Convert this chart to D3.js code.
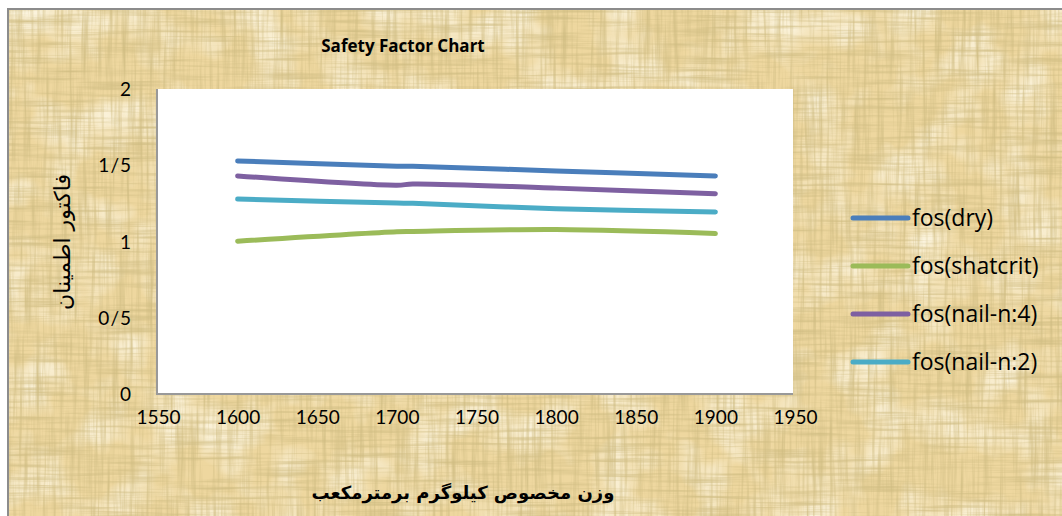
<!DOCTYPE html>
<html>
<head>
<meta charset="utf-8">
<script src="https://cdn.jsdelivr.net/npm/d3@7"></script>
<style>
  body { margin: 0; background: #fff; }
  svg { display: block; }
  .tick text { font-family: Lato, "Open Sans", sans-serif; font-size: 19px; fill: #000; }
</style>
</head>
<body>
<div id="graph"></div>
<script>
// density values (x) and safety factors per series
const xValues = [1600, 1700, 1710, 1800, 1900];
const fosDry = [1.528, 1.494, 1.494, 1.462, 1.430];
const fosShatcrit = [1.002, 1.064, 1.066, 1.078, 1.052];
const fosNail4 = [1.430, 1.369, 1.377, 1.350, 1.313];
const fosNail2 = [1.278, 1.252, 1.251, 1.215, 1.194];
const seriesNames = ["fos(dry)", "fos(shatcrit)", "fos(nail-n:4)", "fos(nail-n:2)"];
const seriesColors = ["#4a7ebb", "#9bbb59", "#7e60a1", "#4bacc6"];
const xTicks = [1550, 1600, 1650, 1700, 1750, 1800, 1850, 1900, 1950];
const yTicks = [0, 0.5, 1, 1.5, 2];

function graph() {
  let w = 1062;
  let h = 516;
  let plot = { left: 157, right: 793, top: 89, bottom: 394 };

  const svg = d3.select("#graph")
                .append("svg")
                .attr("width", w)
                .attr("height", h);

  // parchment texture filters
  const defs = svg.append("defs");
  [["streakH", "0.012 0.3", 3, "0.62 0.50 0.22", "1.7 0 0 0 -0.72"],
   ["streakV", "0.3 0.012", 11, "0.62 0.50 0.22", "1.7 0 0 0 -0.72"],
   ["light", "0.02 0.02", 5, "1 0.97 0.86", "1.8 0 0 0 -0.75"]].forEach(([id, freq, seed, rgb, a]) => {
    const c = rgb.split(" ");
    const f = defs.append("filter").attr("id", id)
                  .attr("x", 0).attr("y", 0).attr("width", "100%").attr("height", "100%");
    f.append("feTurbulence").attr("type", "fractalNoise")
     .attr("baseFrequency", freq).attr("numOctaves", 3).attr("seed", seed);
    f.append("feColorMatrix").attr("type", "matrix")
     .attr("values", `0 0 0 0 ${c[0]}  0 0 0 0 ${c[1]}  0 0 0 0 ${c[2]}  ${a}`);
  });

  svg.append("rect")
     .attr("x", 8).attr("y", 9)
     .attr("width", w).attr("height", h)
     .attr("fill", "#eed79f");
  ["light", "streakH", "streakV"].forEach(id => {
    svg.append("rect")
       .attr("x", 8).attr("y", 9)
       .attr("width", w).attr("height", h)
       .attr("filter", `url(#${id})`);
  });
  svg.append("path")
     .attr("d", `M8,${h} L8,9 L${w},9`)
     .attr("fill", "none")
     .attr("stroke", "#8c8c8c")
     .attr("stroke-width", 2);

  // plot area
  svg.append("rect")
     .attr("x", plot.left).attr("y", plot.top)
     .attr("width", plot.right - plot.left)
     .attr("height", plot.bottom - plot.top)
     .attr("fill", "#fff");
  svg.append("path")
     .attr("d", `M${plot.left},${plot.top} L${plot.left},${plot.bottom} L${plot.right},${plot.bottom}`)
     .attr("fill", "none")
     .attr("stroke", "#999")
     .attr("stroke-width", 2);

  const xScale = d3.scaleLinear()
                   .domain([1550, 1950])
                   .range([158, 795]);

  const yScale = d3.scaleLinear()
                   .domain([0, 2])
                   .range([plot.bottom, plot.top]);

  const xAxis = d3.axisBottom(xScale)
                  .tickValues(xTicks)
                  .tickSize(0)
                  .tickPadding(0)
                  .tickFormat(d3.format("d"));

  const yAxis = d3.axisLeft(yScale)
                  .tickValues(yTicks)
                  .tickSize(0)
                  .tickPadding(25)
                  .tickFormat(d => String(d).replace(".", "/"));

  svg.append("g")
     .attr("transform", `translate(0, 410)`)
     .call(xAxis)
     .call(g => g.select(".domain").remove());

  svg.append("g")
     .attr("transform", `translate(${plot.left}, 0)`)
     .call(yAxis)
     .call(g => g.select(".domain").remove())
     .selectAll("text").attr("dy", "0.35em").style("letter-spacing", "1px");

  const allSeries = [fosDry, fosShatcrit, fosNail4, fosNail2];

  const line = d3.line()
                 .x((d, i) => xScale(xValues[i]))
                 .y(d => yScale(d))
                 .curve(d3.curveCatmullRom.alpha(0.5));

  svg.selectAll(".series")
     .data(allSeries)
     .enter()
     .append("path")
     .attr("class", "series")
     .attr("d", d => line(d))
     .attr("fill", "none")
     .attr("stroke", (d, i) => seriesColors[i])
     .attr("stroke-width", 5)
     .attr("stroke-linecap", "round")
     .attr("stroke-linejoin", "round");

  // titles
  svg.append("text")
     .attr("x", 403)
     .attr("y", 52)
     .attr("text-anchor", "middle")
     .style("font-family", "'Open Sans', sans-serif")
     .style("font-weight", "bold")
     .style("font-size", "17px")
     .text("Safety Factor Chart");

  svg.append("text")
     .attr("transform", "translate(70, 242) rotate(-90)")
     .attr("text-anchor", "middle")
     .style("font-family", "'DejaVu Sans', sans-serif")
     .style("font-size", "22px")
     .text("فاکتور اطمینان");

  svg.append("text")
     .attr("x", 463)
     .attr("y", 499)
     .attr("text-anchor", "middle")
     .style("font-family", "'DejaVu Sans', sans-serif")
     .style("font-weight", "bold")
     .style("font-size", "18px")
     .text("وزن مخصوص کیلوگرم برمترمکعب");

  // legend
  const legend = svg.append("g")
                    .attr("id", "legend")
                    .attr("transform", "translate(853, 218)");

  seriesNames.forEach((name, i) => {
    legend.append("line")
          .attr("x1", 0).attr("x2", 55)
          .attr("y1", i * 48).attr("y2", i * 48)
          .attr("stroke", seriesColors[i])
          .attr("stroke-width", 5)
          .attr("stroke-linecap", "round");
    legend.append("text")
          .attr("x", 59)
          .attr("y", i * 48)
          .attr("dy", "0.35em")
          .style("font-family", "'Open Sans', sans-serif")
          .style("font-size", "23px")
          .text(name);
  });
}

graph();
</script>
</body>
</html>
